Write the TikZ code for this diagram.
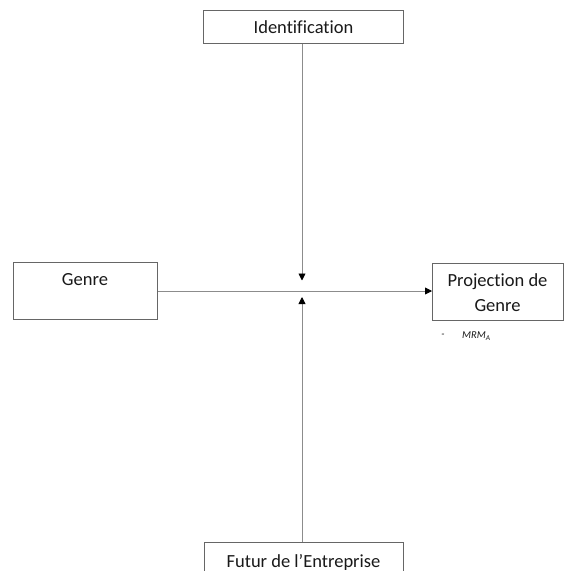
\documentclass[tikz,border=0pt]{standalone}
\usepackage{fontspec}
\setmainfont[Ligatures={NoCommon}]{Carlito}
\usetikzlibrary{arrows.meta}
\begin{document}
\begin{tikzpicture}[x=1pt,y=-1pt,
  box/.style={draw=black!60, line width=1pt, fill=white, inner sep=0pt, anchor=north west,
    font=\fontsize{18.5}{25}\selectfont, text=black!90},
  lbl/.style={font=\fontsize{18.5}{25}\selectfont, text=black!90, inner sep=0pt, align=center},
  conn/.style={draw=black!45, line width=0.9pt, -{Triangle[width=7pt,length=7pt,fill=black,color=black]}},
  note/.style={font=\fontsize{10.5}{12}\selectfont\itshape, text=black!90, inner sep=0pt}]
\useasboundingbox (0,0) rectangle (564,571);
\clip (0,0) rectangle (564,571);
% boxes
\node[box, minimum width=200pt, minimum height=33pt] (ident) at (203,10) {Identification};
\node[box, minimum width=144pt, minimum height=57pt] (genre) at (13,262) {};
\node[lbl] (genreT) at (85,280) {Genre};
\node[box, minimum width=131pt, minimum height=57pt] (proj) at (432,263) {};
\node[lbl] (projT) at (497.5,292.5) {Projection de\\Genre};
\node[box, minimum width=199pt, minimum height=60pt] (futur) at (204,542) {};
\node[lbl] (futurT) at (303.5,562) {Futur de l’Entreprise};
% note
\node[note] (dash) at (443,336) {-};
\node[note, anchor=west] (mrm) at (462,336) {MRM\textsubscript{A}};
% connectors
\coordinate (top) at (302,280.5);
\coordinate (bot) at (302,297);
\draw[conn] (ident.south -| top) -- (top);
\draw[conn] (genre.east) -- (genre.east -| proj.west);
\draw[conn] (futur.north -| bot) -- (bot);
\end{tikzpicture}
\end{document}
